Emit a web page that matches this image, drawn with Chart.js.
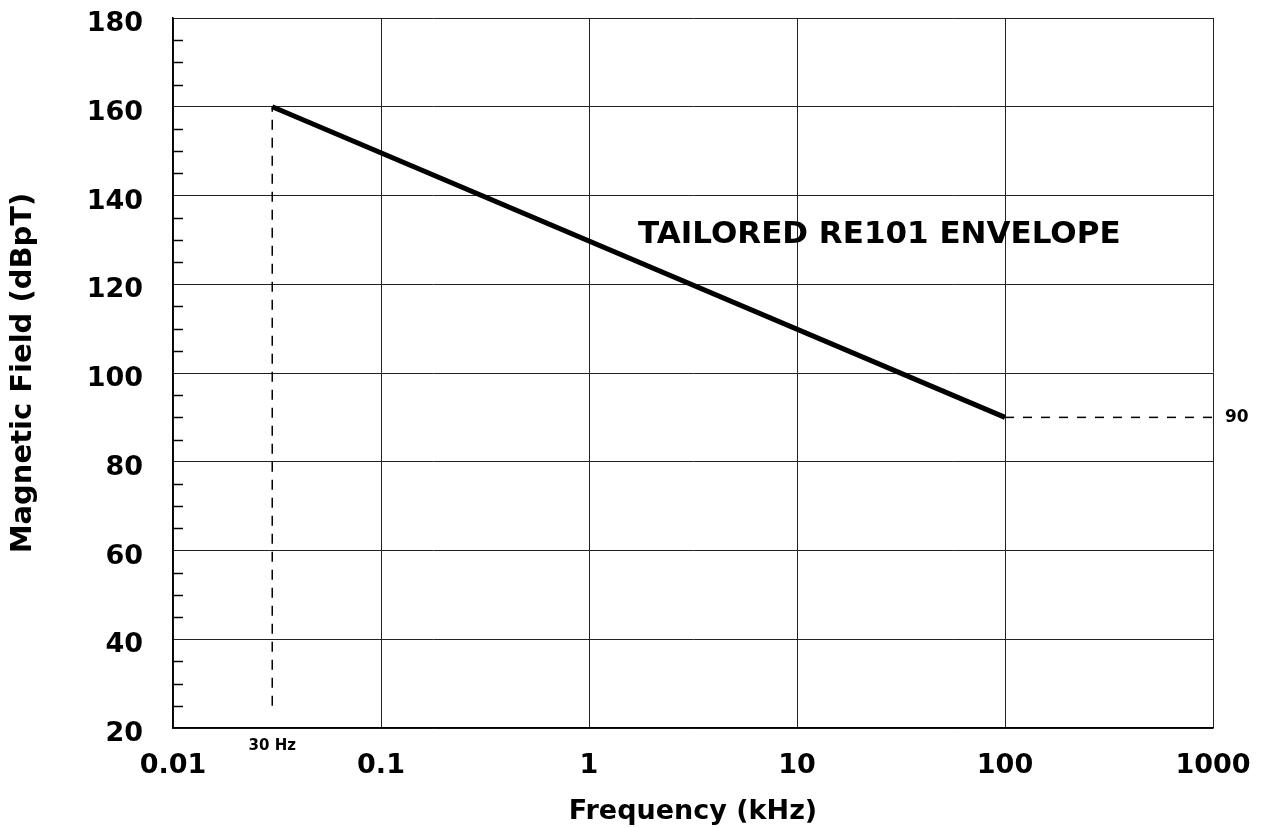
<!DOCTYPE html>
<html>
<head>
<meta charset="utf-8">
<script src="https://cdn.jsdelivr.net/npm/chart.js@4.4.1/dist/chart.umd.min.js"></script>
<style>
  html, body { margin: 0; padding: 0; background: #fff; }
  #wrap { width: 1261px; height: 828px; }
</style>
</head>
<body>
<div id="wrap"><canvas id="grafico"></canvas></div>
<script>
// envelope (kHz / dBpT)
const envFreq = [0.03, 100];
const envLevel = [160, 90];
// dashed markers
const startFreq = [0.03, 0.03];
const startLevel = [25, 160];
const endFreq = [100, 1000];
const endLevel = [90, 90];
// axes
const xTicks = [0.01, 0.1, 1, 10, 100, 1000];
const xTickLabels = ['0.01', '0.1', '1', '10', '100', '1000'];
const yMin = 20, yMax = 180, yStep = 20, yMinorStep = 5;

const FONT = "'DejaVu Sans', sans-serif";

const toPoints = (xs, ys) => xs.map((x, i) => ({ x: x, y: ys[i] }));

// small inner ticks on the left edge + text notes
const extras = {
  id: 'extras',
  afterDatasetsDraw(chart) {
    const ctx = chart.ctx;
    const x = chart.scales.x, y = chart.scales.y;
    const area = chart.chartArea;
    ctx.save();
    ctx.strokeStyle = '#000';
    ctx.lineWidth = 1.5;
    for (let v = yMin + yMinorStep; v < yMax; v += yMinorStep) {
      if (v % yStep === 0) continue;
      const py = Math.round(y.getPixelForValue(v)) + 0.5;
      ctx.beginPath();
      ctx.moveTo(area.left, py);
      ctx.lineTo(area.left + 10, py);
      ctx.stroke();
    }
    ctx.fillStyle = '#000';
    ctx.textBaseline = 'middle';
    ctx.font = 'bold 31px ' + FONT;
    ctx.textAlign = 'left';
    ctx.fillText('TAILORED RE101 ENVELOPE', x.getPixelForValue(1.72), y.getPixelForValue(131));
    ctx.font = 'bold 15px ' + FONT;
    ctx.textAlign = 'center';
    ctx.fillText('30 Hz', x.getPixelForValue(envFreq[0]), area.bottom + 18);
    ctx.font = 'bold 17px ' + FONT;
    ctx.textAlign = 'left';
    ctx.fillText('90', area.right + 12, y.getPixelForValue(endLevel[1]));
    ctx.restore();
  }
};

const ctx = document.getElementById('grafico').getContext('2d');

const grafico = new Chart(ctx, {
  type: 'line',
  data: {
    datasets: [{
      label: 'Envelope',
      data: toPoints(envFreq, envLevel),
      borderColor: '#000',
      borderWidth: 5,
      pointRadius: 0
    }, {
      label: '30 Hz',
      data: toPoints(startFreq, startLevel),
      borderColor: '#000',
      borderWidth: 1.5,
      borderDash: [10, 8],
      pointRadius: 0
    }, {
      label: '90',
      data: toPoints(endFreq, endLevel),
      borderColor: '#000',
      borderWidth: 1.5,
      borderDash: [9, 9],
      pointRadius: 0
    }]
  },
  options: {
    responsive: true,
    maintainAspectRatio: false,
    animation: false,
    layout: {
      padding: { top: 18, right: 48, bottom: 0, left: 0 }
    },
    plugins: {
      legend: { display: false },
      tooltip: { enabled: false }
    },
    scales: {
      x: {
        type: 'logarithmic',
        min: xTicks[0],
        max: xTicks[xTicks.length - 1],
        afterBuildTicks: (scale) => {
          scale.ticks = xTicks.map(v => ({ value: v }));
        },
        afterFit: (scale) => {
          scale.height = 100;
          scale.paddingLeft = 0;
          scale.paddingRight = 0;
        },
        border: { color: '#000', width: 1.5 },
        grid: { color: '#222', lineWidth: 1, drawTicks: false },
        ticks: {
          color: '#000',
          padding: 22,
          autoSkip: false,
          maxRotation: 0,
          font: { family: FONT, size: 27, weight: 'bold' },
          callback: (value, index) => xTickLabels[index]
        },
        title: {
          display: true,
          text: 'Frequency (kHz)',
          color: '#000',
          padding: { top: 0, bottom: 0 },
          font: { family: FONT, size: 27, weight: 'bold' }
        }
      },
      y: {
        min: yMin,
        max: yMax,
        afterFit: (scale) => {
          scale.width = 173;
          scale.paddingTop = 0;
          scale.paddingBottom = 0;
        },
        border: { color: '#000', width: 1.5 },
        grid: { color: '#222', lineWidth: 1, drawTicks: false },
        ticks: {
          stepSize: yStep,
          color: '#000',
          padding: 30,
          labelOffset: 6,
          font: { family: FONT, size: 27, weight: 'bold' }
        },
        title: {
          display: true,
          text: 'Magnetic Field (dBpT)',
          color: '#000',
          padding: { top: 6, bottom: 0 },
          font: { family: FONT, size: 29, weight: 'bold' }
        }
      }
    }
  },
  plugins: [extras]
});
</script>
</body>
</html>
